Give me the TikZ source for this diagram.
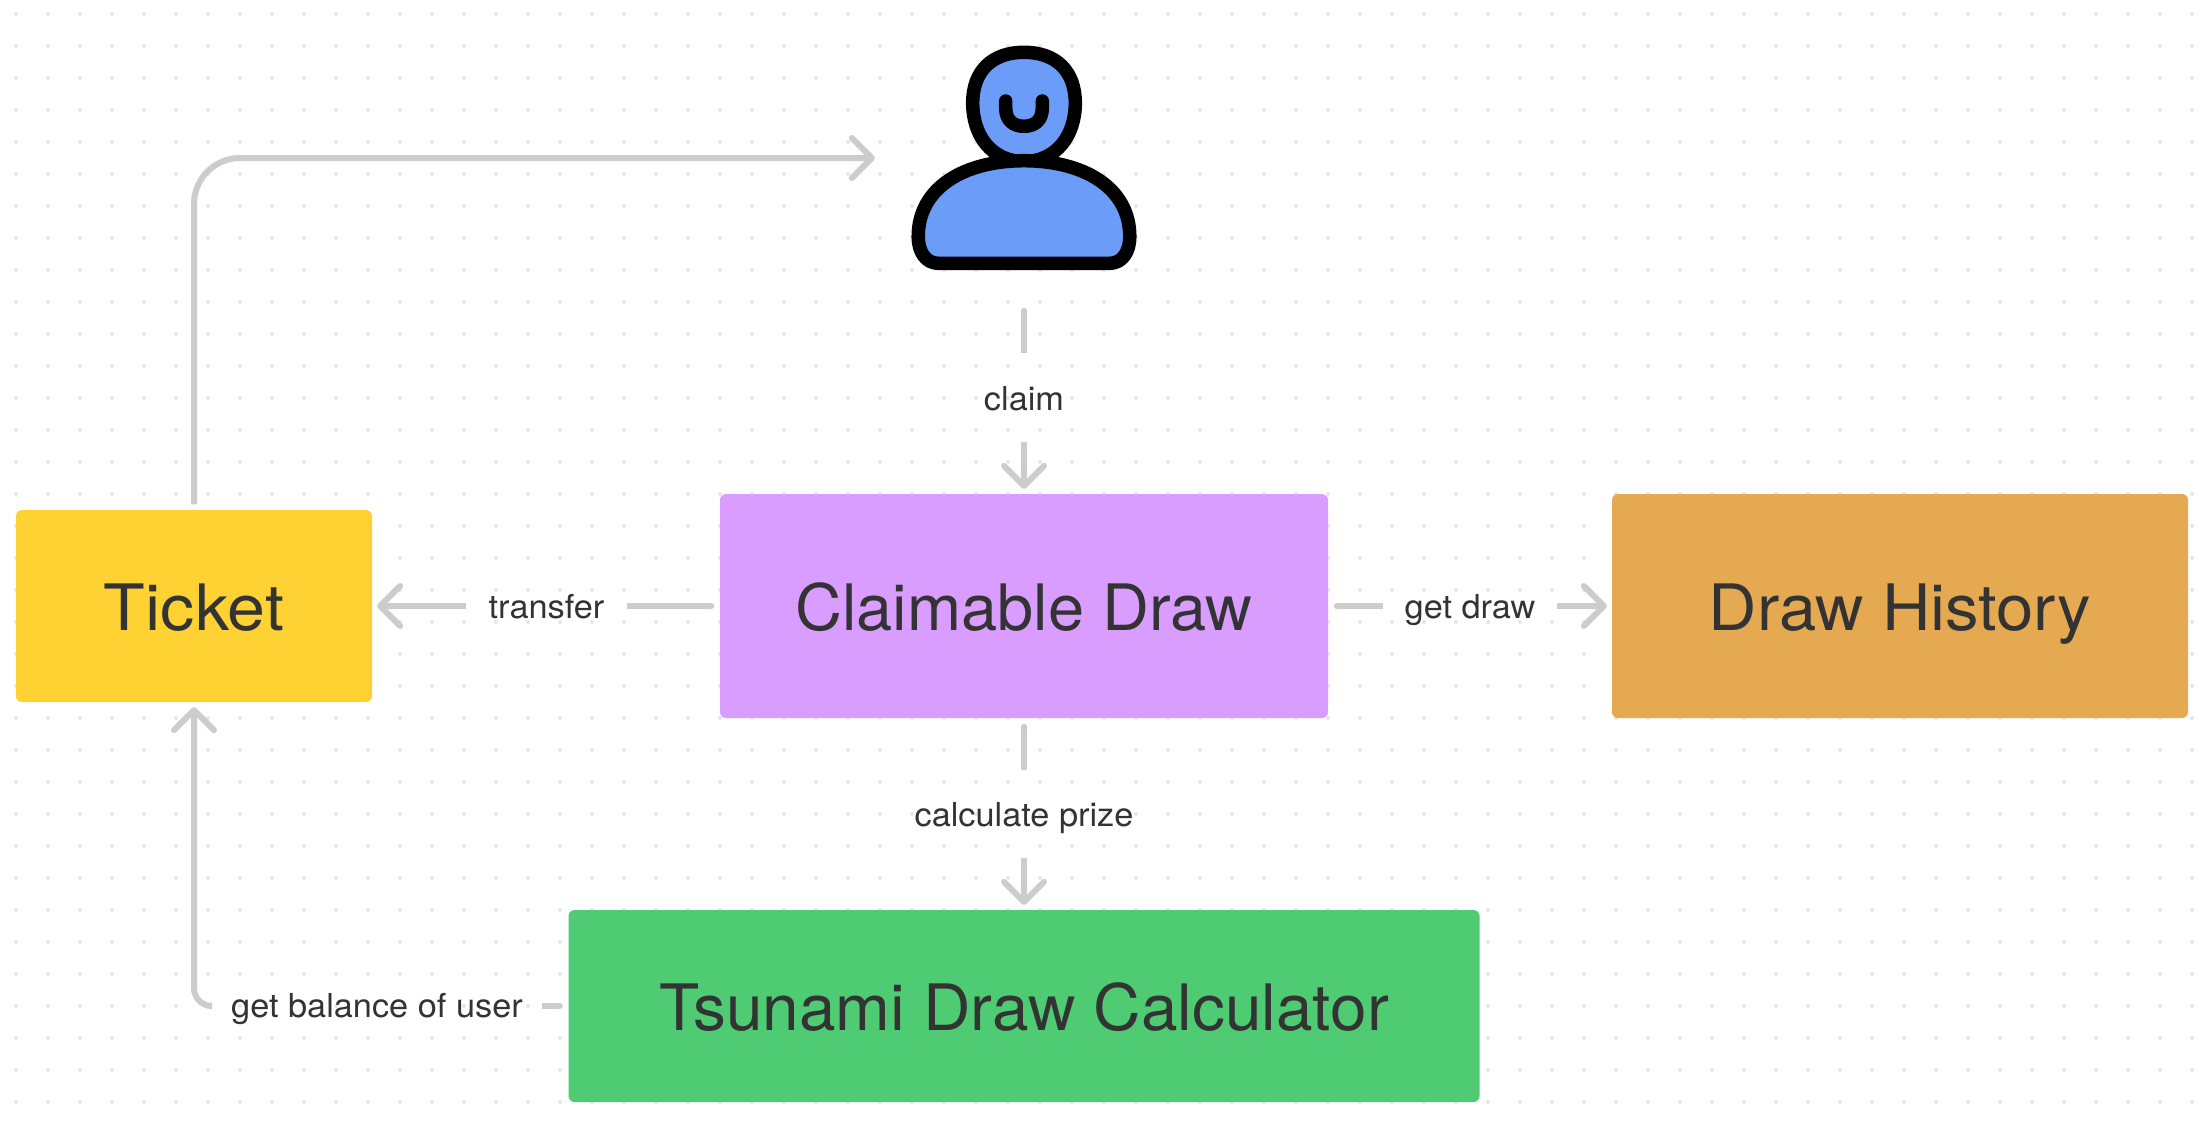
\documentclass[tikz,border=0pt]{standalone}
\usepackage{fontspec}
\setmainfont[FakeStretch=1.04]{TeX Gyre Heros}
\newfontfamily\fticket[FakeStretch=1.065]{TeX Gyre Heros}
\newfontfamily\fclaim[FakeStretch=1.015]{TeX Gyre Heros}
\newfontfamily\fhistory[FakeStretch=1.047]{TeX Gyre Heros}
\newfontfamily\fcalc[FakeStretch=1.027]{TeX Gyre Heros}
\usetikzlibrary{arrows.meta}
\definecolor{wire}{HTML}{CDCBCB}
\definecolor{griddot}{HTML}{E6E6E6}
\definecolor{ink}{HTML}{333333}
\definecolor{cticket}{HTML}{FFD233}
\definecolor{cclaim}{HTML}{D99CFF}
\definecolor{chistory}{HTML}{E4A951}
\definecolor{ccalc}{HTML}{4FCC73}
\definecolor{cuser}{HTML}{6A9CF8}
\newcommand{\boxsize}{\fontsize{64}{70}\selectfont}
\tikzset{
  box/.style={inner sep=0pt,rounded corners=6pt,text=ink,text height=48pt,text depth=0pt},
  lbl/.style={inner xsep=0pt,inner ysep=0pt,anchor=base,text=ink,font=\fontsize{33}{36}\selectfont},
  wirebase/.style={draw=wire,line width=6pt,line cap=butt},
  plain/.style={wirebase,{Round Cap[]}-,shorten <=5.5pt},
  head/.style={wirebase,-{Straight Barb[length=20pt,width=40pt,round]},shorten >=5pt},
  iconline/.style={draw=black,line width=13.5pt,line join=round,line cap=round}
}
\begin{document}
\begin{tikzpicture}[x=1pt,y=-1pt]
\useasboundingbox (0,0) rectangle (2208,1120);
\fill[white] (0,0) rectangle (2208,1120);
\foreach \i in {0,...,68}{
  \foreach \j in {0,...,34}{
    \fill[griddot] ({16+32*\i},{14+32*\j}) circle[radius=2pt];
  }
}
% nodes
\node[box,font=\fticket\boxsize,fill=cticket,minimum width=356pt,minimum height=192pt] (ticket) at (194,606) {Ticket};
\node[box,font=\fclaim\boxsize,fill=cclaim,minimum width=608pt,minimum height=224pt] (claimable) at (1024,606) {Claimable Draw};
\node[box,font=\fhistory\boxsize,fill=chistory,minimum width=576pt,minimum height=224pt] (history) at (1900,606) {Draw History};
\node[box,font=\fcalc\boxsize,fill=ccalc,minimum width=911pt,minimum height=192pt] (calc) at (1024,1006) {Tsunami Draw Calculator};
\node[minimum width=288pt,minimum height=288pt,inner sep=0pt] (user) at (1024,158) {};
% user icon
\path[iconline,fill=cuser] (1024,52.3)
  .. controls (1056,52.3) and (1075.3,71) .. (1075.3,103)
  .. controls (1075.3,136) and (1056,161.5) .. (1024,161.5)
  .. controls (992,161.5) and (972.7,136) .. (972.7,103)
  .. controls (972.7,71) and (992,52.3) .. (1024,52.3) -- cycle;
\path[iconline,fill=cuser] (1024,160.7)
  .. controls (1083,160.7) and (1129.8,187) .. (1129.8,236.7)
  .. controls (1129.8,252) and (1122,263.3) .. (1109.8,263.3)
  -- (938.2,263.3)
  .. controls (926,263.3) and (918.2,252) .. (918.2,236.7)
  .. controls (918.2,187) and (965,160.7) .. (1024,160.7) -- cycle;
\path[iconline] (1005.7,101) -- (1005.7,108)
  .. controls (1005.7,120) and (1013,126.3) .. (1024,126.3)
  .. controls (1035,126.3) and (1042.3,120) .. (1042.3,108) -- (1042.3,101);
% labels
\node[lbl,minimum width=161pt,text height=24pt,text depth=0pt] (ltransfer) at (546.5,618) {transfer};
\node[lbl,minimum width=174pt,text height=24pt,text depth=0pt] (lgetdraw) at (1470,618) {get draw};
\node[lbl,text height=57pt,text depth=32pt] (lclaim) at (1024,410) {claim};
\node[lbl,text height=56pt,text depth=32pt] (lprize) at (1024,826) {calculate prize};
\node[lbl,minimum width=330pt,text height=22pt,text depth=0pt] (lbalance) at (377,1017) {get balance of user};
% connectors
\draw[head,shorten <=5.5pt,rounded corners=46pt] (ticket.north) |- (user.west);
\draw[plain] (user.south) -- (lclaim.north);
\draw[head] (lclaim.south) -- (claimable.north);
\draw[plain] (claimable.west) -- (ltransfer.east);
\draw[head] (ltransfer.west) -- (ticket.east);
\draw[plain] (claimable.east) -- (lgetdraw.west);
\draw[head] (lgetdraw.east) -- (history.west);
\draw[plain] (claimable.south) -- (lprize.north);
\draw[head] (lprize.south) -- (calc.north);
\draw[plain] (calc.west) -- (lbalance.east);
\draw[head,rounded corners=18pt] (lbalance.west) -| (ticket.south);
\end{tikzpicture}
\end{document}
